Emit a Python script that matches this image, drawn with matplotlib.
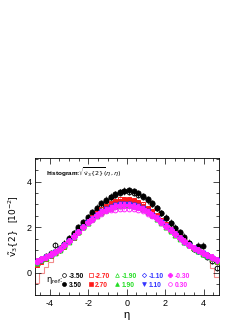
import numpy as np
import matplotlib
matplotlib.use("Agg")
import matplotlib.pyplot as plt
from matplotlib.ticker import MultipleLocator
from matplotlib.lines import Line2D

plt.rcParams["font.family"] = ["Liberation Sans", "DejaVu Sans"]
plt.rcParams["mathtext.fontset"] = "dejavusans"
plt.rcParams["axes.unicode_minus"] = False

# ---------------------------------------------------------------------------
# data: eta bins (40 bins of 0.24) and v3{2} per eta_ref
# ---------------------------------------------------------------------------
eta_bins = np.linspace(-4.8, 4.8, 41)
eta = 0.5 * (eta_bins[:-1] + eta_bins[1:])

eta_ref = ["-3.50", "3.50", "-2.70", "2.70", "-1.90", "1.90", "-1.10", "1.10", "-0.30", "0.30"]

v_m350 = [0.50, 0.62, 0.74, 0.86, 1.22, 1.02, 1.28, 1.52, 1.72, 1.93, 2.14, 2.36, 2.57, 2.78, 2.98, 3.16, 3.31, 3.43, 3.52, 3.57,
          3.56, 3.51, 3.42, 3.31, 3.17, 3.01, 2.83, 2.63, 2.42, 2.20, 1.97, 1.73, 1.50, 1.29, 1.10, 0.95, 0.82, 0.70, 0.52, 0.20]
v_p350 = [0.40, 0.57, 0.68, 0.80, 0.93, 1.08, 1.28, 1.50, 1.74, 1.99, 2.23, 2.45, 2.66, 2.86, 3.04, 3.20, 3.34, 3.45, 3.54, 3.60,
          3.62, 3.58, 3.49, 3.37, 3.22, 3.04, 2.84, 2.62, 2.40, 2.18, 1.97, 1.77, 1.58, 1.32, 1.05, 1.18, 1.18, 0.78, 0.66, 0.56]
v_m270 = [0.40, 0.51, 0.63, 0.75, 0.87, 1.01, 1.17, 1.35, 1.56, 1.79, 2.02, 2.23, 2.43, 2.61, 2.78, 2.93, 3.06, 3.15, 3.22, 3.25,
          3.24, 3.19, 3.11, 3.00, 2.86, 2.70, 2.52, 2.32, 2.12, 1.92, 1.73, 1.55, 1.38, 1.23, 1.09, 0.96, 0.84, 0.73, 0.62, 0.50]
v_p270 = [0.33, 0.46, 0.59, 0.72, 0.85, 0.99, 1.15, 1.34, 1.54, 1.77, 1.99, 2.19, 2.38, 2.56, 2.73, 2.88, 3.00, 3.09, 3.16, 3.19,
          3.18, 3.14, 3.06, 2.95, 2.81, 2.65, 2.47, 2.28, 2.08, 1.89, 1.70, 1.53, 1.36, 1.21, 1.07, 0.94, 0.83, 0.72, 0.60, 0.46]
v_m190 = [0.45, 0.56, 0.67, 0.78, 0.90, 1.03, 1.19, 1.38, 1.58, 1.80, 2.01, 2.20, 2.37, 2.52, 2.65, 2.76, 2.85, 2.92, 2.96, 2.98,
          2.97, 2.93, 2.87, 2.78, 2.66, 2.52, 2.37, 2.20, 2.02, 1.84, 1.67, 1.50, 1.34, 1.20, 1.07, 0.94, 0.83, 0.73, 0.63, 0.50]
v_p190 = [0.42, 0.55, 0.66, 0.77, 0.89, 1.02, 1.18, 1.36, 1.56, 1.78, 2.00, 2.19, 2.36, 2.51, 2.64, 2.75, 2.84, 2.91, 2.95, 2.97,
          2.96, 2.93, 2.87, 2.79, 2.67, 2.53, 2.38, 2.21, 2.03, 1.85, 1.68, 1.51, 1.35, 1.21, 1.08, 0.95, 0.84, 0.74, 0.64, 0.52]
v_m110 = [0.48, 0.58, 0.68, 0.80, 0.92, 1.05, 1.21, 1.39, 1.59, 1.81, 2.03, 2.22, 2.39, 2.55, 2.69, 2.80, 2.90, 2.96, 3.00, 3.02,
          3.00, 2.96, 2.89, 2.80, 2.68, 2.54, 2.39, 2.22, 2.04, 1.86, 1.69, 1.52, 1.36, 1.22, 1.09, 0.97, 0.86, 0.76, 0.66, 0.56]
v_p110 = [0.47, 0.57, 0.68, 0.79, 0.91, 1.04, 1.20, 1.38, 1.58, 1.80, 2.02, 2.21, 2.38, 2.54, 2.68, 2.80, 2.90, 2.97, 3.01, 3.03,
          3.02, 2.98, 2.91, 2.82, 2.70, 2.55, 2.40, 2.23, 2.05, 1.87, 1.70, 1.53, 1.37, 1.23, 1.10, 0.97, 0.86, 0.76, 0.66, 0.56]
v_m030 = [0.50, 0.60, 0.70, 0.81, 0.93, 1.06, 1.22, 1.40, 1.60, 1.81, 2.02, 2.21, 2.38, 2.53, 2.66, 2.77, 2.86, 2.92, 2.96, 2.98,
          2.97, 2.94, 2.88, 2.80, 2.68, 2.55, 2.40, 2.24, 2.06, 1.88, 1.71, 1.54, 1.38, 1.24, 1.11, 0.99, 0.88, 0.78, 0.68, 0.58]
v_p030 = [0.49, 0.59, 0.69, 0.80, 0.92, 1.05, 1.21, 1.39, 1.58, 1.79, 1.99, 2.17, 2.33, 2.47, 2.59, 2.69, 2.74, 2.77, 2.80, 2.81,
          2.80, 2.78, 2.75, 2.70, 2.60, 2.48, 2.35, 2.20, 2.03, 1.86, 1.69, 1.53, 1.37, 1.23, 1.10, 0.98, 0.87, 0.77, 0.67, 0.57]

# statistical error per eta_ref set
v_err = [0.14, 0.15, 0.07, 0.07, 0.05, 0.05, 0.05, 0.05, 0.04, 0.04]

# sqrt(v3{2})(eta, eta) histogram
hist_vals = [-0.45, 0.00, 0.27, 0.49, 0.80, 0.95, 1.12, 1.30, 1.50, 1.72, 1.94, 2.13, 2.30, 2.45, 2.58, 2.70, 2.82, 2.92, 2.98, 3.02,
             3.02, 2.98, 2.90, 2.80, 2.66, 2.50, 2.34, 2.16, 1.98, 1.80, 1.63, 1.46, 1.30, 1.16, 1.02, 0.90, 0.75, 0.69, 0.20, -0.20]

series = [v_m350, v_p350, v_m270, v_p270, v_m190, v_p190, v_m110, v_p110, v_m030, v_p030]

# style per eta_ref (ROOT-like marker set)
colors  = ["black", "black", "#ff1a1a", "#ff1a1a", "#22dd22", "#22dd22", "#3333ff", "#3333ff", "#ff22ff", "#ff22ff"]
markers = ["o", "o", "s", "s", "^", "^", "D", "v", "P", "o"]
filled  = [False, True, False, True, False, True, False, True, True, False]
msizes  = [3.4, 3.6, 3.2, 3.2, 3.4, 3.4, 2.8, 3.4, 4.0, 3.4]

# ---------------------------------------------------------------------------
fig = plt.figure(figsize=(2.49, 3.23), dpi=100)
ax = fig.add_axes([0.1386, 0.0867, 0.741, 0.424])

ax.stairs(hist_vals, eta_bins, color="#f28b8b", lw=0.8, zorder=1)

handles = []
for i, vals in enumerate(series):
    c = colors[i]
    ax.errorbar(eta, vals, yerr=v_err[i], fmt="none", ecolor=c, elinewidth=0.6,
                capsize=0, alpha=0.7, zorder=2 + i)
    ax.plot(eta, vals, ls="none", marker=markers[i], ms=msizes[i],
            mfc=c if filled[i] else "none", mec=c, mew=0.7, zorder=2 + i)
    handles.append(Line2D([], [], ls="none", marker=markers[i], ms=msizes[i] * 0.8,
                          mfc=c if filled[i] else "none", mec=c, mew=0.5))

ax.set_xlim(-4.8, 4.8)
ax.set_ylim(-0.97, 5.03)
ax.xaxis.set_major_locator(MultipleLocator(2))
ax.xaxis.set_minor_locator(MultipleLocator(0.5))
ax.yaxis.set_major_locator(MultipleLocator(2))
ax.yaxis.set_minor_locator(MultipleLocator(0.5))
ax.tick_params(which="both", direction="in", top=True, right=True, labelsize=6.5, width=0.5)
ax.tick_params(which="major", length=4)
ax.tick_params(which="minor", length=2)
ax.tick_params(axis="x", pad=3)
ax.tick_params(axis="y", pad=2)
for s in ax.spines.values():
    s.set_linewidth(0.6)

ax.set_xlabel("η", fontsize=8, labelpad=1)
ax.set_ylabel(r"$\tilde{\mathrm{v}}_3\{2\}$   [$10^{-2}$]", fontsize=6.5, labelpad=4)

ax.text(0.062, 0.893, r"histogram:$\sqrt{\tilde{\mathrm{v}}_3\{2\}}(\eta,\eta)$", transform=ax.transAxes,
        fontsize=4.6, fontweight="bold", va="center", ha="left")

ax.text(0.062, 0.105, r"$\mathrm{\eta}_{\mathrm{ref}}$:", transform=ax.transAxes, fontsize=6,
        va="center", ha="left")

leg = ax.legend(handles, eta_ref, ncol=5, loc="lower left", bbox_to_anchor=(0.145, 0.045),
                frameon=False, fontsize=4.8, handlelength=0.8, handletextpad=0.3,
                columnspacing=0.6, labelspacing=0.3, borderpad=0, borderaxespad=0)
for t, c in zip(leg.get_texts(), colors):
    t.set_color(c)
    t.set_fontweight("bold")

fig.savefig("out.png", dpi=100)
